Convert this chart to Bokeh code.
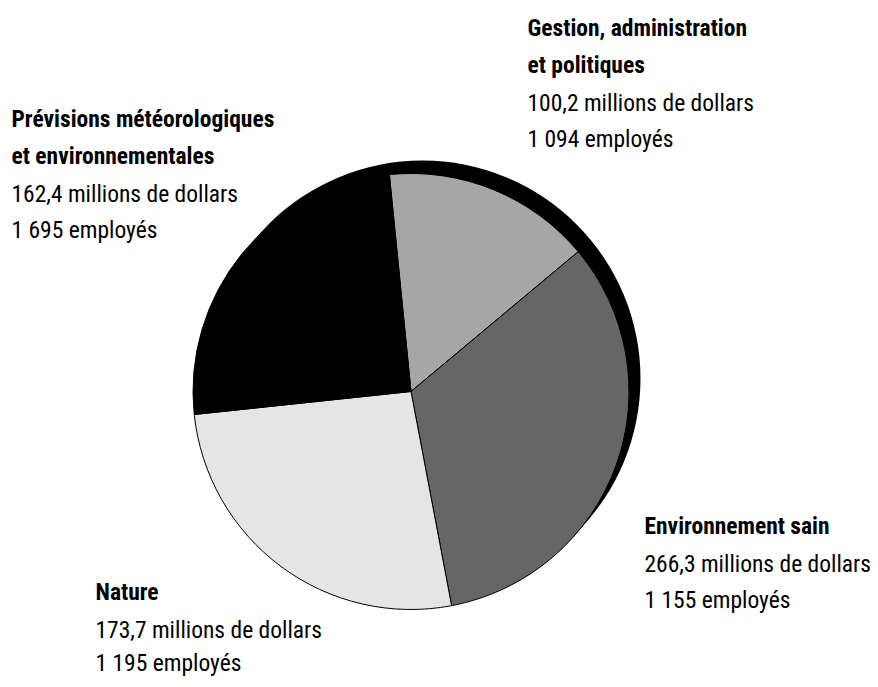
import numpy as np
from bokeh.plotting import figure
from bokeh.models import Range1d, ColumnDataSource
from bokeh.core.properties import value
from bokeh.embed import file_html
from bokeh.resources import INLINE

# ---------------- data ----------------
categories = [
    "Gestion, administration et politiques",
    "Environnement sain",
    "Nature",
    "Prévisions météorologiques et environnementales",
]
heading_lines = [
    ["Gestion, administration", "et politiques"],
    ["Environnement sain"],
    ["Nature"],
    ["Prévisions météorologiques", "et environnementales"],
]
dollars_millions = [100.2, 266.3, 173.7, 162.4]
employees = [1094, 1155, 1195, 1695]
# slice sizes as drawn in the picture (percent of the circle)
slice_share_pct = [15.5, 33.1, 26.3, 25.1]

# ---------------- styles / layout ----------------
colors = ["#a6a6a6", "#666666", "#e5e5e5", "#000000"]
FONT = "Roboto Condensed"
HEAD_SIZE = "23.5px"
BODY_SIZE = "23.5px"
CX, CY, R = 410.5, -391.0, 218.0
SHADOW_DX, SHADOW_DY = 11.5, 13.0
START_CW_DEG = -5.7  # first slice boundary, clockwise from 12 o'clock
# label block anchors (x, first baseline) in picture pixels
label_anchor = [(527, 37.3), (644, 535), (95, 601), (11, 128)]
HEAD_STEP, HEAD_TO_BODY, BODY_STEP = 37.0, 38.5, 35.5
TEXT_DY = 10.0      # compensation: rendered baseline sits ~10px below the anchor
MAX_BASELINE = 672  # keep the last line fully inside the figure

p = figure(width=870, height=679, x_range=Range1d(0, 870), y_range=Range1d(-679, 0),
           output_backend="svg", toolbar_location=None, min_border=0,
           x_axis_location=None, y_axis_location=None)
p.grid.visible = False
p.outline_line_color = None
p.background_fill_color = "white"
p.border_fill_color = "white"

# shadow disc
p.circle(x=[CX + SHADOW_DX], y=[CY + SHADOW_DY], radius=R, fill_color="black", line_color=None)

frac = np.array(slice_share_pct) / np.sum(slice_share_pct)
cw_end = START_CW_DEG + 360.0 * np.cumsum(frac)
cw_start = cw_end - 360.0 * frac
start_angle = np.radians(90.0 - cw_end)
end_angle = np.radians(90.0 - cw_start)
src = ColumnDataSource(dict(x=[CX] * 4, y=[CY] * 4, s=start_angle, e=end_angle,
                            c=colors, name=categories))
p.wedge(x="x", y="y", radius=R, start_angle="s", end_angle="e", fill_color="c",
        line_color="black", line_width=1, direction="anticlock", source=src)

# labels
hx, hy, ht, bx, by, bt = [], [], [], [], [], []
for (ax, ay), heads, d, n in zip(label_anchor, heading_lines, dollars_millions, employees):
    yy = ay
    for h in heads:
        hx.append(ax); hy.append(-(yy - TEXT_DY)); ht.append(h)
        yy += HEAD_STEP
    yy += HEAD_TO_BODY - HEAD_STEP
    bx.append(ax); by.append(-(yy - TEXT_DY)); bt.append(f"{d:.1f}".replace(".", ",") + " millions de dollars")
    yy += BODY_STEP
    bx.append(ax); by.append(-(min(yy, MAX_BASELINE) - TEXT_DY)); bt.append(f"{n:,}".replace(",", " ") + " employés")

p.text(x=hx, y=hy, text=ht, text_font=value(FONT), text_font_size=HEAD_SIZE,
       text_font_style="bold", text_color="black", text_baseline="alphabetic", text_align="left")
p.text(x=bx, y=by, text=bt, text_font=value(FONT), text_font_size=BODY_SIZE,
       text_color="black", text_baseline="alphabetic", text_align="left")

open("out.html", "w").write(file_html(p, INLINE))
